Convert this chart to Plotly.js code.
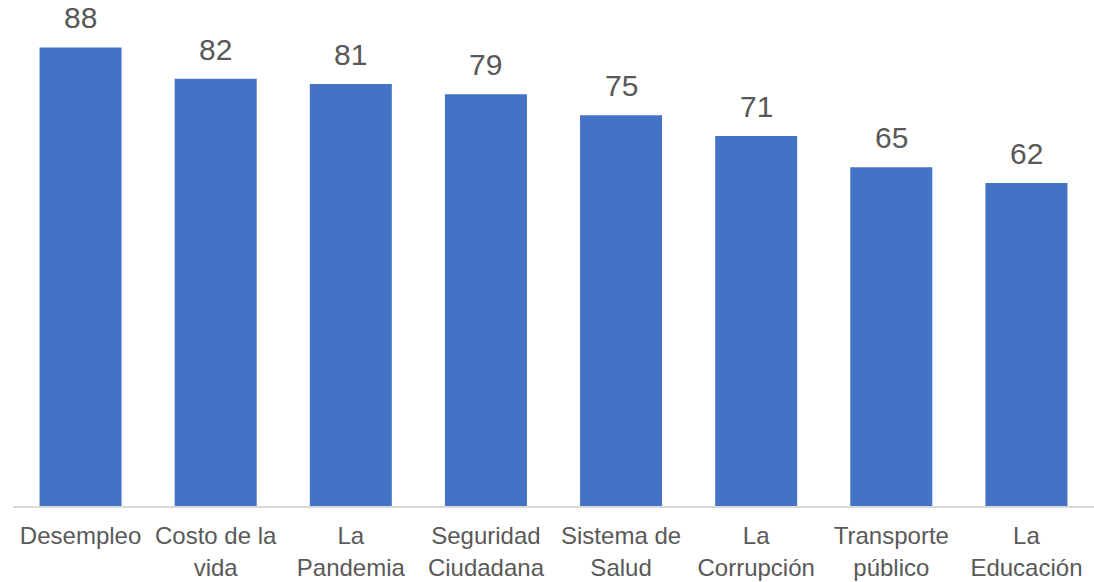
<!DOCTYPE html>
<html>
<head>
<meta charset="utf-8">
<script src="https://cdn.plot.ly/plotly-3.0.1.min.js"></script>
<style>html,body{margin:0;padding:0;background:#fff;}#chart{width:1094px;height:582px;}</style>
</head>
<body>
<div id="chart"></div>
<script>
const categories = ["Desempleo", "Costo de la<br>vida", "La<br>Pandemia", "Seguridad<br>Ciudadana", "Sistema de<br>Salud", "La<br>Corrupción", "Transporte<br>público", "La<br>Educación"];
const values = [88, 82, 81, 79, 75, 71, 65, 62];

const textColor = "#595959";
const fontFam = "Arial, 'Liberation Sans', sans-serif";

const trace = {
  type: "bar",
  x: categories,
  y: values,
  marker: {color: "#4472C4"},
  hoverinfo: "skip"
};

const annotations = categories.map((c, i) => ({
  x: c, y: values[i], xref: "x", yref: "y",
  text: String(values[i]),
  showarrow: false,
  yanchor: "bottom",
  yshift: 11,
  font: {family: fontFam, size: 30, color: textColor}
}));

const layout = {
  width: 1094, height: 582,
  margin: {l: 13, r: 0, t: 0, b: 76},
  paper_bgcolor: "#ffffff",
  plot_bgcolor: "#ffffff",
  bargap: 0.393,
  showlegend: false,
  xaxis: {
    type: "category",
    showline: true, linecolor: "#D9D9D9", linewidth: 1.5,
    ticks: "", showgrid: false,
    tickfont: {family: fontFam, size: 24, color: textColor},
    ticklabelstandoff: 8,
    tickangle: 0,
    automargin: false
  },
  yaxis: {
    range: [0, 97.1],
    visible: false,
    showgrid: false, zeroline: false
  },
  annotations: annotations
};

Plotly.newPlot("chart", [trace], layout, {displayModeBar: false, staticPlot: true});
</script>
</body>
</html>
